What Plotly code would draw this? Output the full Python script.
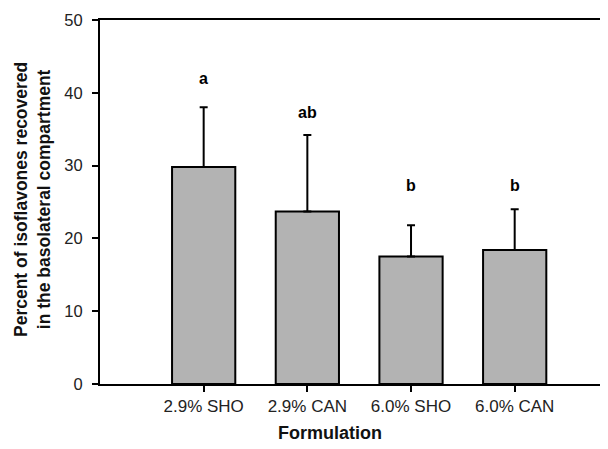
import plotly.graph_objects as go

categories = ["2.9% SHO", "2.9% CAN", "6.0% SHO", "6.0% CAN"]
means = [29.8, 23.7, 17.5, 18.4]
sd_plus = [8.2, 10.5, 4.3, 5.6]
letters = ["a", "ab", "b", "b"]
letter_y = [42.0, 37.3, 27.2, 27.2]
y_ticks = [0, 10, 20, 30, 40, 50]

FONT = "Liberation Sans, Arial, sans-serif"

fig = go.Figure()
fig.add_trace(go.Bar(
    x=categories, y=means, width=0.61,
    marker=dict(color="#b3b3b3", line=dict(color="black", width=2)),
    error_y=dict(type="data", array=sd_plus, arrayminus=[0] * len(means),
                 symmetric=False, color="black", thickness=2, width=4),
    showlegend=False,
))

for c, t, yy in zip(categories, letters, letter_y):
    fig.add_annotation(x=c, y=yy, text="<b>%s</b>" % t, showarrow=False,
                       font=dict(family=FONT, size=16, color="black"),
                       xanchor="center", yanchor="middle")

# axis titles
fig.add_annotation(xref="paper", yref="paper", x=0.4528, y=0, yshift=-49,
                   text="<b>Formulation</b>", showarrow=False,
                   font=dict(family=FONT, size=18, color="#111"),
                   xanchor="center", yanchor="middle")
fig.add_annotation(xref="paper", yref="paper", x=0, xshift=-68, y=0.5, yshift=2,
                   text="<b>Percent of isoflavones recovered<br>in the basolateral compartment</b>",
                   showarrow=False, textangle=-90,
                   font=dict(family=FONT, size=17.5, color="#111"),
                   xanchor="center", yanchor="middle")

# page body has an 8px default margin, so the figure is sized to fit the window
fig.update_layout(
    width=600, height=441,
    margin=dict(l=92, r=0, t=12, b=65),
    paper_bgcolor="white", plot_bgcolor="white",
    font=dict(family=FONT, color="#222"),
)
fig.update_xaxes(
    type="category", range=[-1.0, 3.9], automargin=False,
    showline=True, linecolor="black", linewidth=2, mirror=True,
    ticks="outside", ticklen=6, tickwidth=2, tickcolor="black",
    tickfont=dict(family=FONT, size=17, color="#222"),
    showgrid=False, zeroline=False,
)
fig.update_yaxes(
    range=[0, 50], tickvals=y_ticks, automargin=False,
    showline=True, linecolor="black", linewidth=2, mirror=False,
    ticks="outside", ticklen=6, tickwidth=2, tickcolor="black",
    ticklabelstandoff=6,
    tickfont=dict(family=FONT, size=16.5, color="#222"),
    showgrid=False, zeroline=False,
)

fig.write_html("out.html")
